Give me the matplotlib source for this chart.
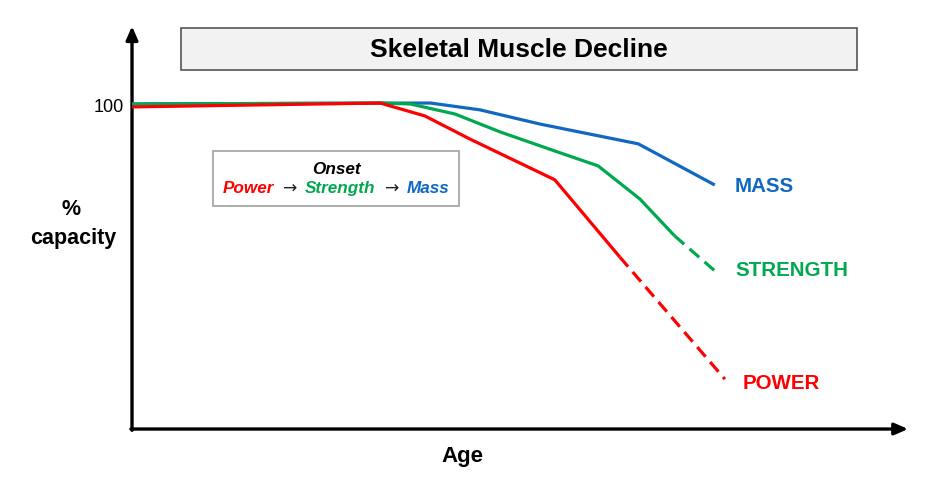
import numpy as np
import matplotlib.pyplot as plt
from matplotlib.patches import Rectangle
from matplotlib.offsetbox import TextArea, HPacker, VPacker, AnnotationBbox

plt.rcParams['font.family'] = ['Liberation Sans', 'DejaVu Sans']

# Data (age in arbitrary units 0-100, capacity in %)
mass_x = [0, 38.6, 45.0, 52.8, 60.5, 65.5, 75.4]
mass_y = [100.3, 100.6, 98.5, 94.1, 90.4, 88.0, 75.3]

strength_x = [0, 32.1, 36.0, 41.8, 47.6, 54.7, 60.3, 65.7, 70.2]
strength_y = [100.3, 100.6, 100.3, 97.2, 91.7, 85.8, 81.2, 71.0, 59.6]
strength_dash_x = [70.2, 75.4]
strength_dash_y = [59.6, 48.8]

power_x = [0, 32.1, 37.9, 43.7, 54.7, 63.1]
power_y = [99.4, 100.6, 96.6, 89.5, 76.9, 53.1]
power_dash_x = [63.1, 76.7]
power_dash_y = [53.1, 15.4]

RED = '#FF0000'
GREEN = '#00A850'
BLUE = '#1068C0'

fig = plt.figure(figsize=(9.45, 4.89), dpi=100)
ax = fig.add_axes([0, 0, 1, 1])
ax.set_xlim(-17.08, 105.18)
ax.set_ylim(-18.2, 132.7)
ax.axis('off')

# axes arrows
arrow = dict(arrowstyle='-|>,head_length=0.8,head_width=0.35', lw=2.4, color='black',
             shrinkA=0, shrinkB=0)
ax.annotate('', xy=(100.4, 0), xytext=(-0.15, 0), arrowprops=arrow)
ax.annotate('', xy=(0, 124.3), xytext=(0, -0.4), arrowprops=arrow)

lw = 2.3
ax.plot(mass_x, mass_y, color=BLUE, lw=lw, solid_capstyle='butt', zorder=3)
ax.plot(strength_x, strength_y, color=GREEN, lw=lw, solid_capstyle='butt', zorder=4)
ax.plot(strength_dash_x, strength_dash_y, color=GREEN, lw=lw, ls=(0, (4, 2.2)), zorder=4)
ax.plot(power_x, power_y, color=RED, lw=lw, solid_capstyle='butt', zorder=5)
ax.plot(power_dash_x, power_dash_y, color=RED, lw=lw, ls=(0, (4, 2.2)), zorder=5)

# series labels
ax.text(78.0, 75.3, 'MASS', color=BLUE, fontsize=14.8, fontweight='bold', va='center')
ax.text(78.0, 49.1, 'STRENGTH', color=GREEN, fontsize=14.8, fontweight='bold', va='center')
ax.text(79.0, 14.5, 'POWER', color=RED, fontsize=14.8, fontweight='bold', va='center')

# axis labels
ax.text(-1.05, 99.5, '100', fontsize=13, ha='right', va='center')
ax.text(-7.9, 68.0, '%', fontsize=15.5, fontweight='bold', ha='center', va='center')
ax.text(-7.6, 59.0, 'capacity', fontsize=15.5, fontweight='bold', ha='center', va='center')
ax.text(42.8, -8.3, 'Age', fontsize=16, fontweight='bold', ha='center', va='center')

# title box
ax.add_patch(Rectangle((6.34, 110.9), 87.5, 13.0, facecolor='#F2F2F2',
                       edgecolor='#555555', lw=1.2, zorder=2))
ax.text(50.1, 117.3, 'Skeletal Muscle Decline', fontsize=19, fontweight='bold',
        ha='center', va='center')

# onset box
fp = dict(fontsize=12.3, fontweight='bold', fontstyle='italic')
ap = dict(fontsize=12.3, color='#222222', family='DejaVu Sans')
onset = TextArea('Onset', textprops=dict(color='black', **fp))
seq = HPacker(children=[
    TextArea('Power', textprops=dict(color=RED, **fp)),
    TextArea('\u2192', textprops=ap),
    TextArea('Strength', textprops=dict(color=GREEN, **fp)),
    TextArea('\u2192', textprops=ap),
    TextArea('Mass', textprops=dict(color=BLUE, **fp)),
], align='baseline', pad=0, sep=6)
box = VPacker(children=[onset, seq], align='center', pad=0, sep=2)
ab = AnnotationBbox(box, (26.4, 77.3), xycoords='data', frameon=True, pad=0.7,
                    bboxprops=dict(edgecolor='#A0A0A0', facecolor='white', lw=1.2), zorder=6)
ax.add_artist(ab)

fig.savefig('out.png', dpi=100)
